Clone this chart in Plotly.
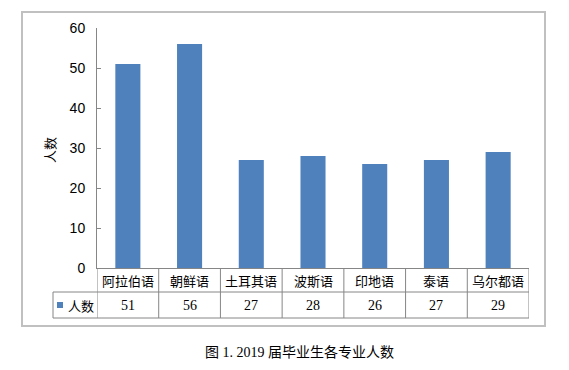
import plotly.graph_objects as go

categories = ["阿拉伯语", "朝鲜语", "土耳其语", "波斯语", "印地语", "泰语", "乌尔都语"]
values = [51, 56, 27, 28, 26, 27, 29]
series_name = "人数"
y_ticks = [0, 10, 20, 30, 40, 50, 60]
caption = "图 1. 2019 届毕业生各专业人数"

BAR = "#4f81bd"
GRID = "#868686"
CJK = "Noto Sans CJK SC, Noto Sans, sans-serif"

# page body has an 8px default margin; work in window pixels and offset
OFF = 8
W, H = 569 - OFF, 370 - OFF
PL, PR, PT, PB = 97, 529, 28, 268  # plot area in window pixels
L, T = PL - OFF, PT - OFF
R, B = W - (PR - OFF), H - (PB - OFF)
pw = PR - PL
ph = PB - PT

def px_x(x):
    return (x - PL) / pw

def px_y(y):
    return (PB - y) / ph

idx = list(range(len(categories)))

fig = go.Figure()
fig.add_trace(go.Bar(x=idx, y=values, marker=dict(color=BAR, line=dict(width=0)),
                     name=series_name, showlegend=False))

shapes = []
row1 = px_y(292)
row2 = px_y(318)
line = dict(color=GRID, width=1)
for i in range(len(categories) + 1):
    shapes.append(dict(type="line", xref="x", yref="paper", x0=i - 0.5, x1=i - 0.5,
                       y0=0, y1=row2, line=line))
shapes.append(dict(type="line", xref="paper", yref="paper", x0=px_x(53), x1=1,
                   y0=row1, y1=row1, line=line))
shapes.append(dict(type="line", xref="paper", yref="paper", x0=px_x(53), x1=1,
                   y0=row2, y1=row2, line=line))
shapes.append(dict(type="line", xref="paper", yref="paper", x0=px_x(53), x1=px_x(53),
                   y0=row1, y1=row2, line=line))
shapes.append(dict(type="rect", xref="paper", yref="paper", x0=px_x(57), x1=px_x(63),
                   y0=px_y(308), y1=px_y(302), fillcolor=BAR, line=dict(width=0)))
shapes.append(dict(type="rect", xref="paper", yref="paper", x0=px_x(22), x1=px_x(545),
                   y0=px_y(326), y1=px_y(12), line=dict(color="#c0c0c0", width=2),
                   fillcolor="rgba(0,0,0,0)", layer="below"))

ann = []
for i, (c, v) in enumerate(zip(categories, values)):
    ann.append(dict(x=i, y=(0 + row1) / 2, xref="x", yref="paper", text=c, showarrow=False,
                    xanchor="center", yanchor="middle", font=dict(family=CJK, size=13, color="#000")))
    ann.append(dict(x=i, y=(row1 + row2) / 2, xref="x", yref="paper", text=str(v), showarrow=False,
                    xanchor="center", yanchor="middle",
                    font=dict(family="Liberation Serif, serif", size=14, color="#000")))
ann.append(dict(x=px_x(66), y=(row1 + row2) / 2, xref="paper", yref="paper", text=series_name,
                showarrow=False, xanchor="left", yanchor="middle",
                font=dict(family=CJK, size=13, color="#000")))
ann.append(dict(x=px_x(49), y=px_y(150), xref="paper", yref="paper", text="人数", textangle=-90,
                showarrow=False, xanchor="center", yanchor="middle",
                font=dict(family=CJK, size=13, color="#000")))
ann.append(dict(x=px_x(299), y=px_y(352), xref="paper", yref="paper", text=caption,
                showarrow=False, xanchor="center", yanchor="middle",
                font=dict(family="Liberation Serif, Noto Sans CJK SC, serif", size=14, color="#000")))

fig.update_layout(
    width=W, height=H,
    margin=dict(l=L, r=R, t=T, b=B, pad=0),
    plot_bgcolor="white", paper_bgcolor="white",
    bargap=0.594,
    shapes=shapes, annotations=ann,
    xaxis=dict(range=[-0.5, len(categories) - 0.5], showticklabels=False, ticks="",
               showgrid=False, zeroline=False, showline=True, linecolor=GRID, linewidth=1,
               fixedrange=True),
    yaxis=dict(range=[0, 60], tickvals=y_ticks, ticks="inside", ticklen=4, tickcolor=GRID,
               showgrid=False, zeroline=False, showline=True, linecolor=GRID, linewidth=1,
               tickfont=dict(family="Liberation Sans, Arial, sans-serif", size=14, color="#000"),
               ticklabelstandoff=8, fixedrange=True),
)

fig.write_html("out.html")
